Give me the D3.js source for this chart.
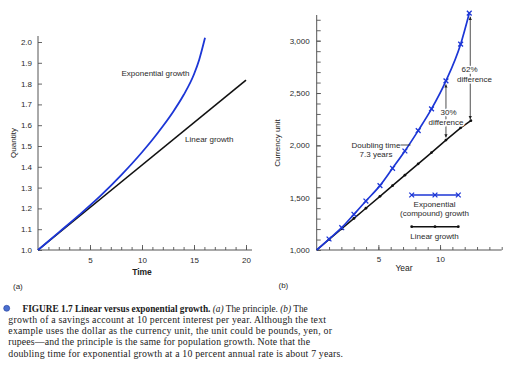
<!DOCTYPE html>
<html><head><meta charset="utf-8">
<script src="https://cdn.jsdelivr.net/npm/d3@7"></script>
<style>body{margin:0;background:#fff} svg{display:block}</style>
</head><body>
<svg id="c" width="509" height="366"></svg>
<script>
// ---------- Data: panel (a) ----------
const timeMajorTicks = [5, 10, 15, 20];
const timeMinorTicks = [1,2,3,4,5,6,7,8,9,10,11,12,13,14,15,16,17,18,19,20];
const quantityTicks = [1.0,1.1,1.2,1.3,1.4,1.5,1.6,1.7,1.8,1.9,2.0];
const expTime = [0, 2, 4, 6, 8, 10, 11, 12, 13, 14, 15, 15.5, 16.06];
const expQuantity = [1.0, 1.085, 1.17, 1.26, 1.36, 1.47, 1.53, 1.595, 1.665, 1.745, 1.845, 1.915, 2.02];
const linTime = [0, 20];
const linQuantity = [1.0, 1.817];

// ---------- Data: panel (b) ----------
const yearMajorTicks = [5, 10];
const yearMinorTicks = [1,2,3,4,5,6,7,8,9,10,11,12,13,14,15];
const currencyLabelTicks = [1000, 1500, 2000, 2500, 3000];
const currencyMinorTicks = [1000,1100,1200,1300,1400,1500,1600,1700,1800,1900,2000,2100,2200,2300,2400,2500,2600,2700,2800,2900,3000,3100,3200];
const compYears = [0, 1.0, 2.03, 3.02, 3.99, 5.13, 6.15, 7.15, 8.23, 9.31, 10.48, 11.67, 12.37];
const compValues = [1000, 1105, 1213, 1341, 1468, 1615, 1781, 1946, 2141, 2348, 2616, 2967, 3263];
const linYears = [0, 1.0, 2.03, 3.02, 3.99, 5.13, 6.15, 7.15, 8.23, 9.31, 10.48, 11.67, 12.5];
const linValues = [1000, 1100, 1203, 1302, 1399, 1513, 1615, 1715, 1823, 1931, 2050, 2167, 2236];

const captionLines = [
  "growth of a savings account at 10 percent interest per year. Although the text",
  "example uses the dollar as the currency unit, the unit could be pounds, yen, or",
  "rupees\u2014and the principle is the same for population growth. Note that the",
  "doubling time for exponential growth at a 10 percent annual rate is about 7 years."
];

const BLUE = "#1c36d6";
const AXIS = "#555";
const TXT = "#2a2a2a";
const SANS = "'Liberation Sans', Arial, sans-serif";
const SERIF = "'Liberation Serif', 'Times New Roman', serif";

const svg = d3.select("#c");
svg.append("rect").attr("width",509).attr("height",366).attr("fill","#fff");

function styleAxis(g){
  g.select(".domain").remove();
  g.selectAll("line").attr("stroke", AXIS).attr("stroke-width", 0.9);
  g.selectAll("text").attr("fill", TXT).style("font-family", SANS).style("font-size","8px");
}

// ================= Panel (a) =================
const xA = d3.scaleLinear().domain([0,20]).range([38,246]);
const yA = d3.scaleLinear().domain([1,2]).range([250,42]);

const gA = svg.append("g");
gA.append("line").attr("x1",38).attr("x2",38).attr("y1",yA(1)).attr("y2",36).attr("stroke",AXIS).attr("stroke-width",1);
gA.append("line").attr("x1",38).attr("x2",252).attr("y1",yA(1)).attr("y2",yA(1)).attr("stroke",AXIS).attr("stroke-width",1);

gA.append("g").attr("transform",`translate(0,${yA(1)})`)
  .call(d3.axisBottom(xA).tickValues(timeMinorTicks).tickSize(-3).tickFormat(""))
  .call(styleAxis);
gA.append("g").attr("transform",`translate(0,${yA(1)})`)
  .call(d3.axisBottom(xA).tickValues(timeMajorTicks).tickSize(-5).tickPadding(7).tickFormat(d3.format("d")))
  .call(styleAxis);
gA.append("g").attr("transform",`translate(38,0)`)
  .call(d3.axisLeft(yA).tickValues(quantityTicks).tickSize(-4).tickPadding(6).tickFormat(d3.format(".1f")))
  .call(styleAxis);

const lineA = d3.line().x(d=>xA(d[0])).y(d=>yA(d[1])).curve(d3.curveMonotoneX);
gA.append("path").datum(d3.zip(linTime, linQuantity)).attr("d", lineA)
  .attr("fill","none").attr("stroke","#111").attr("stroke-width",1.6);
gA.append("path").datum(d3.zip(expTime, expQuantity)).attr("d", lineA)
  .attr("fill","none").attr("stroke",BLUE).attr("stroke-width",1.8);

gA.append("text").attr("x",121.5).attr("y",75.5).text("Exponential growth")
  .attr("fill",TXT).style("font-family",SANS).style("font-size","8px");
gA.append("text").attr("x",185).attr("y",142).text("Linear growth")
  .attr("fill",TXT).style("font-family",SANS).style("font-size","8px");
gA.append("text").attr("x",142).attr("y",275).attr("text-anchor","middle").text("Time")
  .attr("fill","#222").style("font-family",SANS).style("font-size","8.5px").style("font-weight","bold");
gA.append("text").attr("transform","translate(16,143) rotate(-90)").attr("text-anchor","middle").text("Quantity")
  .attr("fill","#222").style("font-family",SANS).style("font-size","8px");
gA.append("text").attr("x",13).attr("y",289).text("(a)")
  .attr("fill",TXT).style("font-family",SANS).style("font-size","8px");

// ================= Panel (b) =================
const xB = d3.scaleLinear().domain([0,15]).range([316.7,501.7]);
const yB = d3.scaleLinear().domain([1000,3000]).range([250,40.7]);

const gB = svg.append("g");
gB.append("line").attr("x1",xB(0)).attr("x2",xB(0)).attr("y1",yB(1000)).attr("y2",15).attr("stroke",AXIS).attr("stroke-width",1);
gB.append("line").attr("x1",xB(0)).attr("x2",xB(15)).attr("y1",yB(1000)).attr("y2",yB(1000)).attr("stroke",AXIS).attr("stroke-width",1);

gB.append("g").attr("transform",`translate(0,${yB(1000)})`)
  .call(d3.axisBottom(xB).tickValues(yearMinorTicks).tickSize(-3).tickFormat(""))
  .call(styleAxis);
gB.append("g").attr("transform",`translate(0,${yB(1000)})`)
  .call(d3.axisBottom(xB).tickValues(yearMajorTicks).tickSize(-5).tickPadding(6).tickFormat(d3.format("d")))
  .call(styleAxis);
gB.append("g").attr("transform",`translate(${xB(0)},0)`)
  .call(d3.axisLeft(yB).tickValues(currencyMinorTicks).tickSize(-4).tickFormat(""))
  .call(styleAxis);
gB.append("g").attr("transform",`translate(${xB(0)},0)`)
  .call(d3.axisLeft(yB).tickValues(currencyLabelTicks).tickSize(-4).tickPadding(7).tickFormat(d3.format(",")))
  .call(styleAxis);

const lineB = d3.line().x(d=>xB(d[0])).y(d=>yB(d[1])).curve(d3.curveMonotoneX);
const linPts = d3.zip(linYears, linValues);
const compPts = d3.zip(compYears, compValues);
gB.append("path").datum(linPts).attr("d", d3.line().x(d=>xB(d[0])).y(d=>yB(d[1])))
  .attr("fill","none").attr("stroke","#111").attr("stroke-width",1.5);
gB.selectAll(".ld").data(linPts.slice(1)).join("circle")
  .attr("cx",d=>xB(d[0])).attr("cy",d=>yB(d[1])).attr("r",1.4).attr("fill","#111");
gB.append("path").datum(compPts).attr("d", lineB)
  .attr("fill","none").attr("stroke",BLUE).attr("stroke-width",1.7);

const xMark = (g, cx, cy) => {
  const s = 2.4;
  g.append("path").attr("d",`M${cx-s},${cy-s}L${cx+s},${cy+s}M${cx-s},${cy+s}L${cx+s},${cy-s}`)
    .attr("stroke",BLUE).attr("stroke-width",1.3).attr("fill","none");
};
compPts.slice(1).forEach(d => xMark(gB, xB(d[0]), yB(d[1])));

// arrows
const defs = svg.append("defs");
defs.append("marker").attr("id","ah").attr("viewBox","0 0 10 10").attr("refX",10).attr("refY",5)
  .attr("markerWidth",4).attr("markerHeight",5).attr("orient","auto-start-reverse")
  .append("path").attr("d","M0,0L10,5L0,10z").attr("fill","#222");

function diffArrow(xv, topVal, botVal, lab1, lab2, tx, ty1, tx2, ty2){
  const x = xB(xv);
  gB.append("line").attr("x1",x).attr("x2",x).attr("y1",yB(topVal)+3.5).attr("y2",yB(botVal)-2)
    .attr("stroke","#222").attr("stroke-width",0.8)
    .attr("marker-start","url(#ah)").attr("marker-end","url(#ah)");
  [[lab1,tx,ty1],[lab2,tx2,ty2]].forEach(([t,xx,yy])=>{
    gB.append("text").attr("x",xx).attr("y",yy).attr("text-anchor","middle").text(t)
      .attr("fill",TXT).attr("stroke","#fff").attr("stroke-width",3).attr("paint-order","stroke")
      .style("font-family",SANS).style("font-size","8px");
  });
}
diffArrow(compYears[10], compValues[10], 2056, "30%", "difference", 448.5, 114.5, 446, 124.5);
diffArrow(12.45, compValues[12], 2230, "62%", "difference", 469.5, 72, 474.5, 82);

// doubling time
gB.append("line").attr("x1",400.5).attr("x2",410.5).attr("y1",145).attr("y2",145).attr("stroke","#222").attr("stroke-width",0.8);
gB.append("text").attr("x",376).attr("y",147.8).attr("text-anchor","middle").text("Doubling time")
  .attr("fill",TXT).style("font-family",SANS).style("font-size","8px");
gB.append("text").attr("x",376).attr("y",156.5).attr("text-anchor","middle").text("7.3 years")
  .attr("fill",TXT).style("font-family",SANS).style("font-size","8px");

// legend
const legX = [411.7, 435, 458.3];
gB.append("line").attr("x1",legX[0]).attr("x2",legX[2]).attr("y1",195).attr("y2",195).attr("stroke",BLUE).attr("stroke-width",1.7);
legX.forEach(x => xMark(gB, x, 195));
gB.append("text").attr("x",434.5).attr("y",207).attr("text-anchor","middle").text("Exponential")
  .attr("fill",TXT).style("font-family",SANS).style("font-size","8px");
gB.append("text").attr("x",434.5).attr("y",216.3).attr("text-anchor","middle").text("(compound) growth")
  .attr("fill",TXT).style("font-family",SANS).style("font-size","8px");
gB.append("line").attr("x1",legX[0]).attr("x2",legX[2]).attr("y1",226.7).attr("y2",226.7).attr("stroke","#111").attr("stroke-width",1.4);
legX.forEach(x => gB.append("circle").attr("cx",x).attr("cy",226.7).attr("r",1.4).attr("fill","#111"));
gB.append("text").attr("x",434.5).attr("y",238.5).attr("text-anchor","middle").text("Linear growth")
  .attr("fill",TXT).style("font-family",SANS).style("font-size","8px");

gB.append("text").attr("x",404).attr("y",271).attr("text-anchor","middle").text("Year")
  .attr("fill","#222").style("font-family",SANS).style("font-size","8.5px");
gB.append("text").attr("transform","translate(280,143) rotate(-90)").attr("text-anchor","middle").text("Currency unit")
  .attr("fill","#222").style("font-family",SANS).style("font-size","8px");
gB.append("text").attr("x",278.5).attr("y",288).text("(b)")
  .attr("fill",TXT).style("font-family",SANS).style("font-size","8px");

// ================= Caption =================
const gC = svg.append("g").style("font-family",SERIF).style("font-size","9.8px").attr("fill","#1a1a1a");
gC.append("circle").attr("cx",6.7).attr("cy",308.3).attr("r",3).attr("fill","#4a6fd0").attr("stroke","#223c99").attr("stroke-width",0.6);
const l1 = gC.append("text").attr("x",22.5).attr("y",311.5).style("font-size","9.3px");
l1.append("tspan").style("font-weight","bold").text("FIGURE 1.7 Linear versus exponential growth.");
l1.append("tspan").text(" ");
l1.append("tspan").style("font-style","italic").text("(a)");
l1.append("tspan").text(" The principle. ");
l1.append("tspan").style("font-style","italic").text("(b)");
l1.append("tspan").text(" The");
const ends = [326, 332, 310, 343];
captionLines.forEach((t,i) => {
  gC.append("text").attr("x",8.3).attr("y",322.8 + i*11.3).text(t)
    .attr("textLength", ends[i]-8.3).attr("lengthAdjust","spacing");
});
</script>
</body></html>
